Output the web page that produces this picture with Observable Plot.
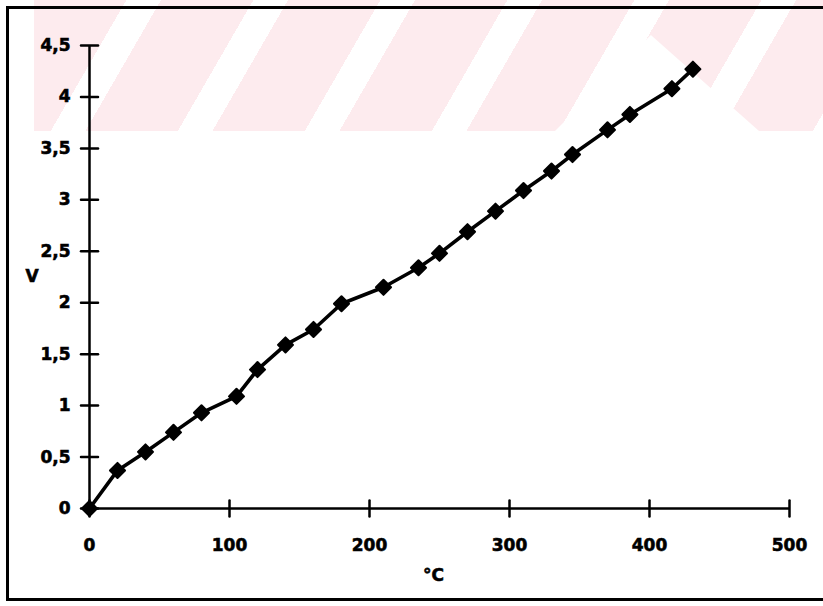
<!DOCTYPE html>
<html>
<head>
<meta charset="utf-8">
<script src="https://cdn.jsdelivr.net/npm/d3@7"></script>
<script src="https://cdn.jsdelivr.net/npm/@observablehq/plot@0.6"></script>
<style>
  html, body { margin: 0; padding: 0; background: #fff; overflow: hidden; width: 823px; height: 606px; }
  #wrap { position: relative; width: 823px; height: 606px; overflow: hidden; }
  #wm { position: absolute; left: 34px; top: 0; width: 789px; height: 131px;
        background: repeating-linear-gradient(120deg, #fdebee 0px, #fdebee 80px, #ffffff 80px, #ffffff 110px); }
  #tri { position: absolute; left: 555px; top: 35px; width: 204px; height: 96px; background: #fff;
         clip-path: polygon(47% 0, 100% 100%, 0 100%); }
  .fl { position: absolute; background: #000; }
  #ft { left: 6px; top: 6px; width: 817px; height: 3px; }
  #fl { left: 6px; top: 6px; width: 3px; height: 595px; }
  #fb { left: 6px; top: 598px; width: 817px; height: 3px; }
  #chart { position: absolute; left: 0; top: 0; }
  #chart text { stroke: #000; stroke-width: 0.6px; }
</style>
</head>
<body>
<div id="wrap">
  <div id="wm"></div>
  <div id="tri"></div>
  <div class="fl" id="ft"></div>
  <div class="fl" id="fl"></div>
  <div class="fl" id="fb"></div>
  <div id="chart"></div>
</div>
<script>
// Data
const temps = [0, 20, 40, 60, 80, 105, 120, 140, 160, 180, 210, 235, 250, 270, 290, 310, 330, 345, 370, 386, 416, 431];
const volts = [0, 0.37, 0.55, 0.74, 0.93, 1.09, 1.35, 1.59, 1.74, 1.99, 2.15, 2.34, 2.48, 2.69, 2.89, 3.09, 3.28, 3.44, 3.68, 3.83, 4.08, 4.27];
const xTicks = [0, 100, 200, 300, 400, 500];
const yTicks = [0, 0.5, 1, 1.5, 2, 2.5, 3, 3.5, 4, 4.5];
const xLabel = "°C";
const yLabel = "V";

const data = temps.map((t, i) => ({t, v: volts[i]}));
const commaFmt = d => String(d).replace(".", ",");
const tickShape = {draw(context, l) { context.moveTo(0, 0); context.lineTo(0, -l); }};

const chart = Plot.plot({
  width: 823,
  height: 606,
  marginLeft: 89,
  marginRight: 34,
  marginTop: 45,
  marginBottom: 98,
  style: {background: "transparent", fontFamily: "'DejaVu Sans', sans-serif", fontSize: "17px", fontWeight: "bold", color: "#000"},
  x: {domain: [0, 500], label: null},
  y: {domain: [0, 4.5], label: null},
  marks: [
    Plot.ruleY([0], {stroke: "#000", strokeWidth: 2.5}),
    Plot.ruleX([0], {stroke: "#000", strokeWidth: 2.5}),
    Plot.vector(xTicks, {x: d => d, y: 0, length: 16, rotate: 0, anchor: "middle", shape: tickShape, stroke: "#000", strokeWidth: 2.5}),
    Plot.vector(yTicks, {x: 0, y: d => d, length: 17, rotate: 90, anchor: "middle", shape: tickShape, stroke: "#000", strokeWidth: 2.5}),
    Plot.axisX({ticks: xTicks, tickSize: 0, tickPadding: 30, tickFormat: d => String(d), label: null, fill: "#000"}),
    Plot.axisY({ticks: yTicks, tickSize: 0, tickPadding: 19, tickFormat: commaFmt, label: null, fill: "#000"}),
    Plot.text([yLabel], {text: d => d, frameAnchor: "left", dx: -64, fill: "#000"}),
    Plot.text([xLabel], {text: d => d, frameAnchor: "bottom", dx: -6, dy: 72, fill: "#000"}),
    Plot.line(data, {x: "t", y: "v", stroke: "#000", strokeWidth: 3.6, strokeLinejoin: "round"}),
    Plot.dot(data, {x: "t", y: "v", symbol: "diamond2", r: 6.8, fill: "#000", stroke: "#000", strokeWidth: 2, strokeLinejoin: "round"})
  ]
});
document.getElementById("chart").appendChild(chart);
</script>
</body>
</html>
